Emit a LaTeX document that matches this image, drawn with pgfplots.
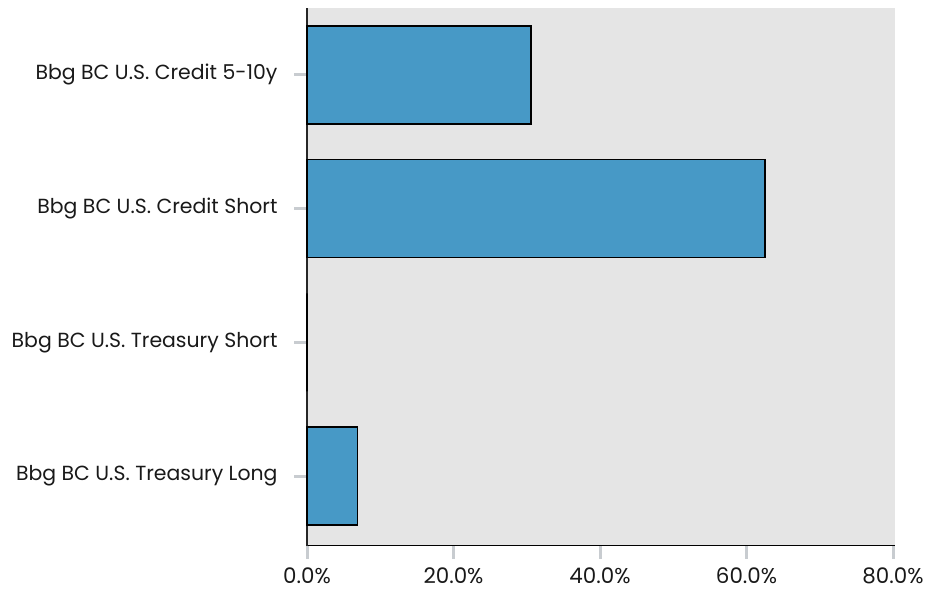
\documentclass[border=0pt]{standalone}
\usepackage{fontspec}
\setmainfont{Poppins}
\usepackage{pgfplots}
\pgfplotsset{compat=1.18}
\definecolor{barblue}{RGB}{71,153,198}
\definecolor{bggray}{RGB}{229,229,229}
\definecolor{tickgray}{RGB}{200,204,208}
\begin{document}
\begin{tikzpicture}[x=1bp,y=1bp]
\path[use as bounding box] (0,0) rectangle (928,593);
\begin{axis}[
  at={(307bp,47.4bp)}, anchor=south west,
  scale only axis, width=588bp, height=537.6bp,
  xbar, bar width=98bp,
  xmin=0, xmax=80.27, ymin=-0.52, ymax=3.5,
  axis background/.style={fill=bggray},
  axis x line*=bottom, axis y line*=left,
  x axis line style={black, line width=1.6bp, -},
  y axis line style={black!85, line width=1.4bp, -},
  xtick pos=bottom, ytick pos=left,
  tick align=outside,
  major tick length=13bp,
  xtick style={draw=tickgray, line width=3bp},
  ytick style={draw=tickgray, line width=3bp},
  xtick={0,20,40,60,80},
  xticklabels={0.0\%,20.0\%,40.0\%,60.0\%,80.0\%},
  ytick={0,1,2,3},
  yticklabels={Bbg BC U.S. Treasury Long,Bbg BC U.S. Treasury Short,Bbg BC U.S. Credit Short,Bbg BC U.S. Credit 5-10y},
  yticklabel style={font=\fontsize{20.5}{24}\selectfont, text=black!90, xshift=-13bp},
  xticklabel style={font=\fontsize{21.5}{25}\selectfont, text=black!90, yshift=-6bp},
  clip=false,
]
\addplot[fill=barblue, draw=black, line width=1.6bp] coordinates {
  (6.87,0) (0,1) (62.5,2) (30.6,3)
};
\end{axis}
\end{tikzpicture}
\end{document}
